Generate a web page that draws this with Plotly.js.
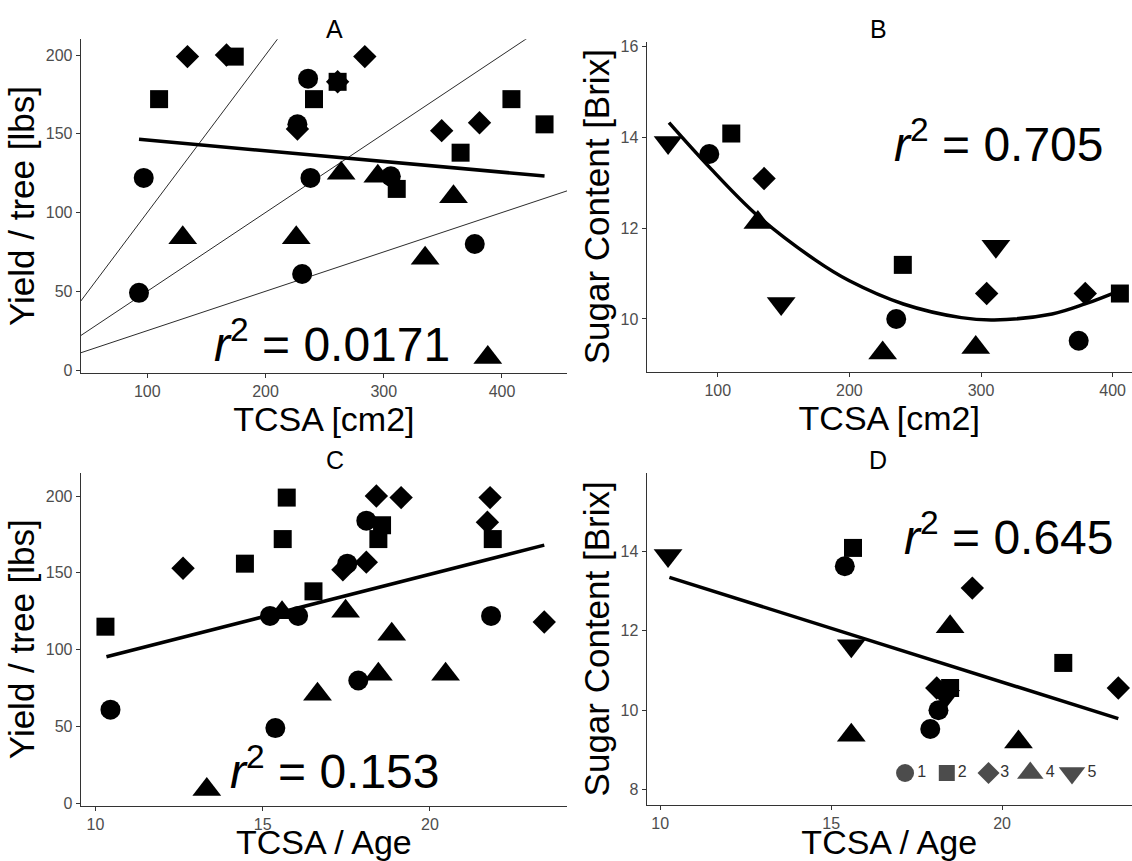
<!DOCTYPE html>
<html>
<head>
<meta charset="utf-8">
<script src="https://cdn.plot.ly/plotly-3.0.1.min.js"></script>
<style>html,body{margin:0;padding:0;background:#fff;}#chart{width:1132px;height:861px;}</style>
</head>
<body>
<div id="chart"></div>
<script>
// ---------- Panel A: TCSA vs Yield ----------
const tcsaA_g1 = [236, 227, 97, 238, 306, 377, 231, 93];
const yieldA_g1 = [185, 156, 122, 122, 123, 80, 61, 49];
const tcsaA_g2 = [174, 110, 261, 241, 408, 436, 365, 311];
const yieldA_g2 = [199, 172, 183, 172, 172, 156, 138, 115];
const tcsaA_g3 = [134, 167, 284, 261, 227, 349, 381];
const yieldA_g3 = [199, 200, 199, 183, 153, 152, 157];
const tcsaA_g4 = [264, 295, 359, 130, 226, 335, 388];
const yieldA_g4 = [125, 123, 110, 84, 84, 71, 8];
const fitA_x = [93, 436];
const fitA_y = [146.5, 123.2];
const refSlopesA = [1, 0.5, 0.25];

// ---------- Panel B: TCSA vs Sugar ----------
const tcsaB_g1 = [93.6, 235.6, 374.2];
const sugarB_g1 = [13.63, 10.0, 9.52];
const tcsaB_g2 = [110.3, 240.6, 405.5];
const sugarB_g2 = [14.08, 11.19, 10.56];
const tcsaB_g3 = [135.2, 304.3, 379.2];
const sugarB_g3 = [13.09, 10.56, 10.56];
const tcsaB_g4 = [130.5, 225.3, 296];
const sugarB_g4 = [12.12, 9.25, 9.37];
const tcsaB_g5 = [62.3, 148.2, 311.3];
const sugarB_g5 = [13.88, 10.34, 11.6];
const fitB_x = [63, 94, 130, 174, 200, 241, 285, 310, 354, 379, 405];
const fitB_y = [14.32, 13.33, 12.28, 11.3, 10.84, 10.33, 10.03, 9.98, 10.11, 10.33, 10.62];

// ---------- Panel C: TCSA/Age vs Yield ----------
const ratioC_g1 = [10.45, 15.38, 15.22, 16.06, 17.53, 18.1, 17.86, 21.83];
const yieldC_g1 = [61, 49, 122, 122, 156, 184, 80, 122];
const ratioC_g2 = [10.3, 14.47, 15.72, 15.6, 16.52, 18.57, 18.46, 21.88];
const yieldC_g2 = [115, 156, 199, 172, 138, 181, 172, 172];
const ratioC_g3 = [12.62, 17.4, 18.1, 18.4, 19.14, 21.8, 21.72, 23.42];
const yieldC_g3 = [153, 152, 157, 200, 199, 199, 183, 118];
const ratioC_g4 = [13.33, 15.58, 17.48, 18.86, 18.46, 16.64, 20.47];
const yieldC_g4 = [9, 124, 125, 110, 84, 71, 84];
const fitC_x = [10.33, 23.42];
const fitC_y = [95.4, 168.1];

// ---------- Panel D: TCSA/Age vs Sugar ----------
const ratioD_g1 = [15.4, 18.14, 17.9];
const sugarD_g1 = [13.62, 10.0, 9.53];
const ratioD_g2 = [15.64, 21.79, 18.48];
const sugarD_g2 = [14.08, 11.19, 10.56];
const ratioD_g3 = [19.13, 23.4, 18.09];
const sugarD_g3 = [13.07, 10.56, 10.56];
const ratioD_g4 = [18.48, 15.59, 20.48];
const sugarD_g4 = [12.1, 9.37, 9.2];
const ratioD_g5 = [10.23, 15.59, 18.35];
const sugarD_g5 = [13.89, 11.62, 10.35];
const fitD_x = [10.27, 23.4];
const fitD_y = [13.34, 9.79];

const groupNames = ['1', '2', '3', '4', '5'];
const r2Labels = ['0.0171', '0.705', '0.153', '0.645'];
const panelTitles = ['A', 'B', 'C', 'D'];

// ---------- styling ----------
const FONT = '"Liberation Sans", Arial, Helvetica, sans-serif';
const symbols = ['circle', 'square', 'diamond', 'triangle-up', 'triangle-down'];
const sizes = [20, 18, 18, 25, 25];
const legendSizes = [18, 16, 17, 23, 23];

const rangeA_x = [43.7, 455], rangeA_y = [-1.7, 210];
const rangeB_x = [45.9, 414.7], rangeB_y = [8.84, 16.1];
const rangeC_x = [9.56, 24.1], rangeC_y = [-1.5, 215.2];
const rangeD_x = [9.6, 23.8], rangeD_y = [7.62, 15.97];

const traces = [];
function pts(x, y, g, xa, ya) {
  traces.push({
    type: 'scatter', mode: 'markers', x: x, y: y, xaxis: xa, yaxis: ya,
    name: groupNames[g], showlegend: false, cliponaxis: false,
    marker: {symbol: symbols[g], size: sizes[g], color: '#000', line: {width: 0}},
    hoverinfo: 'x+y'
  });
}
function line(x, y, xa, ya, w, shape, color) {
  traces.push({
    type: 'scatter', mode: 'lines', x: x, y: y, xaxis: xa, yaxis: ya,
    showlegend: false, hoverinfo: 'skip',
    line: {color: color || '#000', width: w, shape: shape || 'linear', smoothing: 1}
  });
}

// Panel A reference lines through origin
refSlopesA.forEach(s => line(rangeA_x, rangeA_x.map(v => v * s), 'x', 'y', 1, 'linear', '#2b2b2b'));
line(fitA_x, fitA_y, 'x', 'y', 3.5);
pts(tcsaA_g1, yieldA_g1, 0, 'x', 'y');
pts(tcsaA_g2, yieldA_g2, 1, 'x', 'y');
pts(tcsaA_g3, yieldA_g3, 2, 'x', 'y');
pts(tcsaA_g4, yieldA_g4, 3, 'x', 'y');

// Panel B
line(fitB_x, fitB_y, 'x2', 'y2', 3.5, 'spline');
pts(tcsaB_g1, sugarB_g1, 0, 'x2', 'y2');
pts(tcsaB_g2, sugarB_g2, 1, 'x2', 'y2');
pts(tcsaB_g3, sugarB_g3, 2, 'x2', 'y2');
pts(tcsaB_g4, sugarB_g4, 3, 'x2', 'y2');
pts(tcsaB_g5, sugarB_g5, 4, 'x2', 'y2');

// Panel C
line(fitC_x, fitC_y, 'x3', 'y3', 3.5);
pts(ratioC_g1, yieldC_g1, 0, 'x3', 'y3');
pts(ratioC_g2, yieldC_g2, 1, 'x3', 'y3');
pts(ratioC_g3, yieldC_g3, 2, 'x3', 'y3');
pts(ratioC_g4, yieldC_g4, 3, 'x3', 'y3');

// Panel D
line(fitD_x, fitD_y, 'x4', 'y4', 3.5);
pts(ratioD_g1, sugarD_g1, 0, 'x4', 'y4');
pts(ratioD_g2, sugarD_g2, 1, 'x4', 'y4');
pts(ratioD_g3, sugarD_g3, 2, 'x4', 'y4');
pts(ratioD_g4, sugarD_g4, 3, 'x4', 'y4');
pts(ratioD_g5, sugarD_g5, 4, 'x4', 'y4');

// Group key (legend) inside panel D, laid out on its own hidden axis by group index
traces.push({
  type: 'scatter', mode: 'markers+text', xaxis: 'x5', yaxis: 'y5',
  x: groupNames.map((_, i) => i), y: groupNames.map(() => 0),
  text: groupNames, textposition: 'middle right',
  textfont: {family: FONT, size: 16, color: '#333'},
  marker: {symbol: symbols, size: legendSizes, color: '#000', line: {width: 0}},
  showlegend: false, cliponaxis: false, hoverinfo: 'skip'
});

function axis(domain, range, tickvals, title, anchor, isY) {
  return {
    domain: domain, range: range, anchor: anchor,
    tickmode: 'array', tickvals: tickvals, ticktext: tickvals.map(String),
    showline: true, linecolor: '#333', linewidth: 1,
    ticks: 'outside', ticklen: 4, tickwidth: 1, tickcolor: '#333',
    showgrid: false, zeroline: false,
    tickfont: {family: FONT, size: 16, color: '#4d4d4d'},
    title: {text: title, font: {family: FONT, size: isY ? 35 : 34, color: '#000'}, standoff: 0},
    fixedrange: true
  };
}
function hidden(domain, range, anchor) {
  return {domain: domain, range: range, anchor: anchor, visible: false, fixedrange: true,
          showgrid: false, zeroline: false, showline: false, showticklabels: false};
}

const W = 1132, H = 861;
const px = v => v / W, py = v => 1 - v / H;
const LA = 80.7, RA = 567, LB = 646.5;

const layout = {
  width: W, height: H,
  margin: {l: 0, r: 0, t: 0, b: 0, pad: 0},
  paper_bgcolor: '#fff', plot_bgcolor: 'rgba(0,0,0,0)',
  font: {family: FONT, color: '#000'},
  showlegend: false,
  xaxis: axis([px(LA), px(RA)], rangeA_x, [100, 200, 300, 400], 'TCSA [cm2]', 'y'),
  yaxis: axis([py(372.7), py(39.3)], rangeA_y, [0, 50, 100, 150, 200], 'Yield / tree [lbs]', 'x', true),
  xaxis2: axis([px(LB), 1], rangeB_x, [100, 200, 300, 400], 'TCSA [cm2]', 'y2'),
  yaxis2: axis([py(371.7), py(41.7)], rangeB_y, [10, 12, 14, 16], 'Sugar Content [Brix]', 'x2', true),
  xaxis3: axis([px(LA), px(RA)], rangeC_x, [10, 15, 20], 'TCSA / Age', 'y3'),
  yaxis3: axis([py(805.7), py(472.7)], rangeC_y, [0, 50, 100, 150, 200], 'Yield / tree [lbs]', 'x3', true),
  xaxis4: axis([px(LB), 1], rangeD_x, [10, 15, 20], 'TCSA / Age', 'y4'),
  yaxis4: axis([py(805), py(472.7)], rangeD_y, [8, 10, 12, 14], 'Sugar Content [Brix]', 'x4', true),
  xaxis5: hidden([px(880), px(1110)], [-0.6, 4.91], 'y5'),
  yaxis5: hidden([py(785), py(761)], [-1, 1], 'x5'),
  annotations: [
    {xref: 'paper', yref: 'paper', x: px((LA + RA) / 2), y: py(29), yanchor: 'middle', text: panelTitles[0], showarrow: false, font: {size: 25}},
    {xref: 'paper', yref: 'paper', x: px((LB + 1132) / 2), y: py(29), yanchor: 'middle', text: panelTitles[1], showarrow: false, font: {size: 25}},
    {xref: 'paper', yref: 'paper', x: px((LA + RA) / 2), y: py(460), yanchor: 'middle', text: panelTitles[2], showarrow: false, font: {size: 25}},
    {xref: 'paper', yref: 'paper', x: px((LB + 1132) / 2), y: py(460), yanchor: 'middle', text: panelTitles[3], showarrow: false, font: {size: 25}},
    {xref: 'x', yref: 'y', x: 256, y: 18.5, text: '<i>r</i><sup>2</sup> = ' + r2Labels[0], showarrow: false, font: {size: 48}},
    {xref: 'x2', yref: 'y2', x: 314, y: 13.92, text: '<i>r</i><sup>2</sup> = ' + r2Labels[1], showarrow: false, font: {size: 48}},
    {xref: 'x3', yref: 'y3', x: 17.15, y: 23, text: '<i>r</i><sup>2</sup> = ' + r2Labels[2], showarrow: false, font: {size: 48}},
    {xref: 'x4', yref: 'y4', x: 20.2, y: 14.44, text: '<i>r</i><sup>2</sup> = ' + r2Labels[3], showarrow: false, font: {size: 48}}
  ]
};

Plotly.newPlot('chart', traces, layout, {displayModeBar: false, staticPlot: true});
</script>
</body>
</html>
